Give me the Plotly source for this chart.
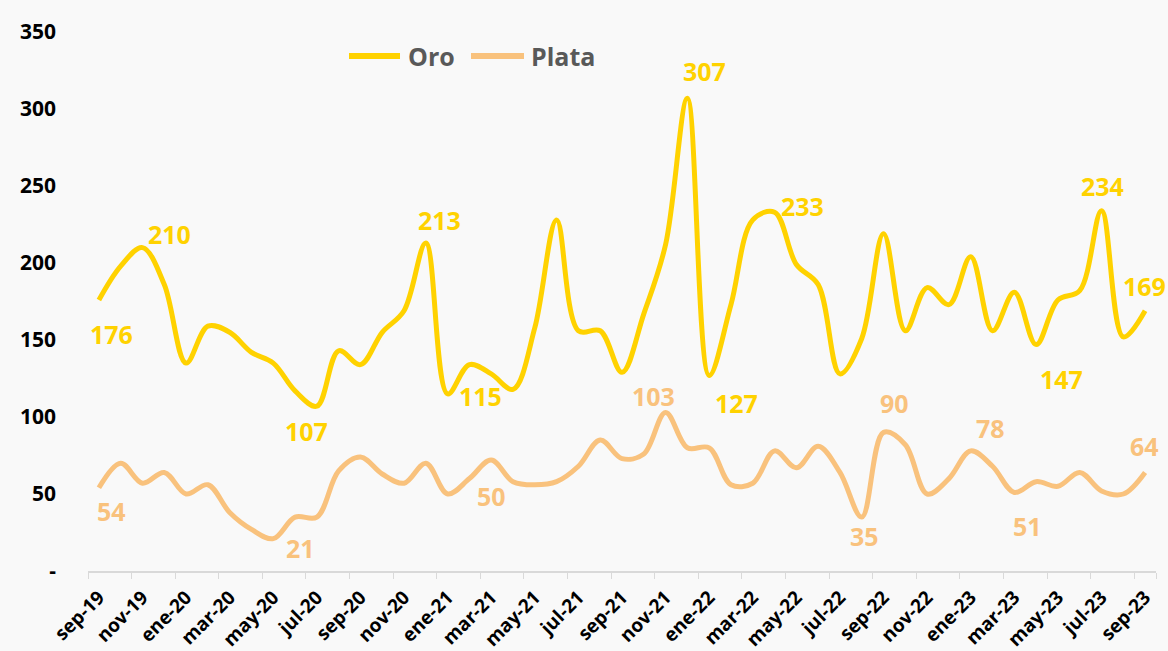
import plotly.graph_objects as go

# ---- data ----
month_names = ["sep", "oct", "nov", "dic", "ene", "feb", "mar", "abr", "may", "jun", "jul", "ago"]
categories = []
for k in range(49):
    m = month_names[k % 12]
    yr = 19 + (k + 8) // 12
    categories.append(f"{m}-{yr}")

oro = [176, 198, 210, 186, 135, 159, 155, 142, 135, 117, 107, 143, 134, 155, 169, 213, 115,
       134, 128, 118, 158, 228, 156, 156, 129, 167, 212, 307, 127, 173, 228, 233, 199, 186,
       128, 151, 219, 156, 184, 173, 204, 156, 181, 147, 176, 182, 234, 152, 169]
plata = [54, 70, 57, 64, 50, 56, 38, 27, 21, 35, 35, 65, 74, 63, 57, 70, 50, 60, 72, 58, 56,
         58, 68, 85, 73, 76, 103, 80, 80, 56, 57, 78, 67, 81, 64, 35, 90, 82, 50, 60, 78, 68,
         51, 58, 55, 64, 52, 50, 64]

y_tickvals = [0, 50, 100, 150, 200, 250, 300, 350]
y_ticktext = ["-", "50", "100", "150", "200", "250", "300", "350"]

series_names = ["Oro", "Plata"]

# labelled points (index into series)
oro_label_idx = [0, 2, 10, 15, 16, 27, 28, 31, 43, 46, 48]
plata_label_idx = [0, 8, 16, 26, 35, 36, 40, 42, 48]

# ---- style ----
W, H = 1168, 651
ML, MR, MT, MB = 88, 12, 32, 80
ORO = "#FFD200"
PLATA = "#F9C27D"
FONT = "Open Sans"
oro_offsets = [(13, 34), (27, -14), (-10, 25), (14, -23), (33, 2), (17, -27), (27, 28),
               (28, -6), (25, 34), (1, -25), (-1, -25)]
plata_offsets = [(13, 23), (27, 9), (44, 2), (-12, -16), (3, 19), (11, -29), (20, -23),
                 (13, 34), (-1, -26)]
# legend layout in screen pixels: (line x0, line x1, text x, y)
legend_px = [(349, 400, 406, 56), (471, 524, 529, 56)]


def px_x(p):
    return (p - ML) / (W - ML - MR)


def px_y(p):
    return (H - MB - p) / (H - MB - MT)


fig = go.Figure()
fig.add_trace(go.Scatter(x=categories, y=oro, name=series_names[0], mode="lines",
                         showlegend=False,
                         line=dict(color=ORO, width=5, shape="spline", smoothing=1.0)))
fig.add_trace(go.Scatter(x=categories, y=plata, name=series_names[1], mode="lines",
                         showlegend=False,
                         line=dict(color=PLATA, width=5, shape="spline", smoothing=1.0)))

annotations = []
for idx, (dx, dy) in zip(oro_label_idx, oro_offsets):
    annotations.append(dict(x=categories[idx], y=oro[idx], text=f"<b>{oro[idx]}</b>",
                            showarrow=False, xshift=dx, yshift=-dy,
                            font=dict(family=FONT, size=25, color=ORO)))
for idx, (dx, dy) in zip(plata_label_idx, plata_offsets):
    annotations.append(dict(x=categories[idx], y=plata[idx], text=f"<b>{plata[idx]}</b>",
                            showarrow=False, xshift=dx, yshift=-dy,
                            font=dict(family=FONT, size=25, color=PLATA)))

shapes = []
for name, color, (lx0, lx1, tx, ly) in zip(series_names, [ORO, PLATA], legend_px):
    shapes.append(dict(type="line", xref="paper", yref="paper",
                       x0=px_x(lx0), x1=px_x(lx1), y0=px_y(ly), y1=px_y(ly),
                       line=dict(color=color, width=6)))
    annotations.append(dict(xref="paper", yref="paper", x=px_x(tx), y=px_y(ly),
                            xanchor="left", yanchor="middle", showarrow=False,
                            text=f"<b>{name}</b>",
                            font=dict(family=FONT, size=25, color="#595959")))

fig.update_layout(
    width=W, height=H,
    margin=dict(l=ML, r=MR, t=MT, b=MB),
    paper_bgcolor="#F9F9F9",
    plot_bgcolor="#F9F9F9",
    font=dict(family=FONT, color="#000000"),
    showlegend=False,
    annotations=annotations,
    shapes=shapes,
    xaxis=dict(type="category", tickmode="array", tickvals=categories[::2],
               tickson="boundaries", ticks="outside", ticklen=6, tickcolor="#D9D9D9",
               showline=True, linecolor="#D9D9D9", linewidth=1.5, showgrid=False,
               tickangle=-45, range=[-0.5, 48.5], automargin=False,
               ticklabelstandoff=6,
               tickfont=dict(family=FONT, size=19, color="#000000", weight="bold")),
    yaxis=dict(range=[0, 350], tickvals=y_tickvals, ticktext=y_ticktext, showgrid=False,
               zeroline=False, showline=False, ticks="", ticklabelstandoff=31,
               automargin=False,
               tickfont=dict(family=FONT, size=21, color="#000000", weight="bold")),
)

fig.write_html("out.html", config={"displayModeBar": False},
               post_script="document.body.style.margin='0';document.body.style.background='#F9F9F9';")
